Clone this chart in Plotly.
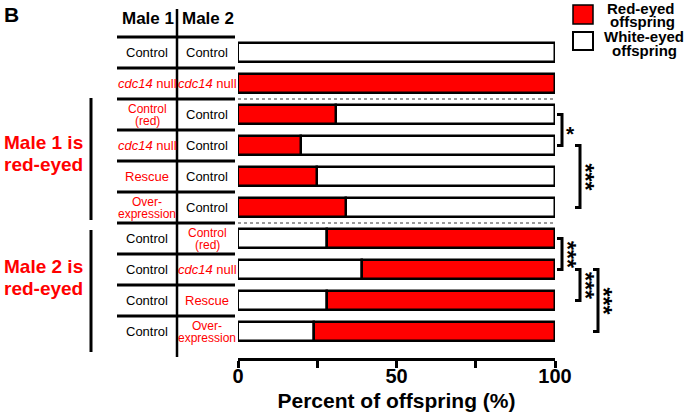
import plotly.graph_objects as go

# ---------------- data ----------------
male1 = ["Control", "<i>cdc14</i> null", "Control<br>(red)", "<i>cdc14</i> null", "Rescue",
         "Over-<br>expression", "Control", "Control", "Control", "Control"]
male2 = ["Control", "<i>cdc14</i> null", "Control", "Control", "Control", "Control",
         "Control<br>(red)", "<i>cdc14</i> null", "Rescue", "Over-<br>expression"]
red_pct = [0, 100, 31, 20, 25, 34, 72, 61, 72, 76]
white_pct = [100 - v for v in red_pct]
red_first = [True, True, True, True, True, True, False, False, False, False]
rows = list(range(len(red_pct)))
x_ticks = [0, 50, 100]
# significance brackets: (row_from, row_to, label, column)
brackets = [(2, 3, "*", 0), (3, 5, "***", 1), (6, 7, "***", 0), (7, 8, "***", 1), (7, 9, "***", 2)]

# ---------------- layout geometry ----------------
W, H = 686, 416
L, R, T, B = 238, 555, 37, 358
ROW = 31.0
YMIN = -0.5
YMAX = YMIN + (B - T) / ROW
FONT = "Liberation Sans, Arial, Helvetica, sans-serif"
RED = "#ff0000"


def px(xp):
    return (xp - L) / (R - L)


def py(yp):
    return (B - yp) / (B - T)


def rowp(v):
    return (YMAX - v) / (YMAX - YMIN)


def A(**kw):
    d = dict(showarrow=False, xanchor="center", yanchor="middle", xref="paper", yref="paper")
    d.update(kw)
    return d


red_x = [v if v > 0 else None for v in red_pct]
white_x = [v if v > 0 else None for v in white_pct]
red_base = [0 if rf else w for rf, w in zip(red_first, white_pct)]
white_base = [r if rf else 0 for rf, r in zip(red_first, red_pct)]

fig = go.Figure()
fig.add_trace(go.Bar(y=rows, x=white_x, base=white_base, orientation="h", width=0.6,
                     marker=dict(color="white", line=dict(color="black", width=2.5)),
                     name="White-eyed offspring", showlegend=False))
fig.add_trace(go.Bar(y=rows, x=red_x, base=red_base, orientation="h", width=0.6,
                     marker=dict(color=RED, line=dict(color="black", width=2.5)),
                     name="Red-eyed offspring", showlegend=False))

shapes = []
ann = []

# dotted separators
for v in (1.5, 5.5):
    shapes.append(dict(type="line", xref="x", yref="y", x0=0, x1=100, y0=v, y1=v,
                       line=dict(color="#9a9a9a", width=2, dash="dot")))

# table lines
shapes.append(dict(type="line", xref="paper", yref="paper", x0=px(177), x1=px(177),
                   y0=py(9), y1=py(357), line=dict(color="black", width=2.5)))
for k in range(len(rows)):
    v = k - 0.5
    shapes.append(dict(type="line", xref="paper", yref="paper", x0=px(117), x1=px(235),
                       y0=rowp(v), y1=rowp(v), line=dict(color="black", width=3)))
# group lines
shapes.append(dict(type="line", xref="paper", yref="paper", x0=px(91), x1=px(91),
                   y0=py(98), y1=py(220), line=dict(color="black", width=3)))
shapes.append(dict(type="line", xref="paper", yref="paper", x0=px(91), x1=px(91),
                   y0=py(230), y1=py(352), line=dict(color="black", width=3)))

# header
ann.append(A(text="B", x=px(11), y=py(14),
             font=dict(family=FONT, size=21, color="black", weight="bold")))
ann.append(A(text="Male 1", x=px(148), y=py(18),
             font=dict(family=FONT, size=17, color="black", weight="bold")))
ann.append(A(text="Male 2", x=px(208), y=py(18),
             font=dict(family=FONT, size=17, color="black", weight="bold")))

# group labels
for txt, yy in (("Male 1 is", 142), ("red-eyed", 164), ("Male 2 is", 266), ("red-eyed", 288)):
    ann.append(A(text=txt, x=px(43), y=py(yy),
                 font=dict(family=FONT, size=19, color=RED, weight="bold")))


def cell(txt, xc, r):
    color = "black" if txt == "Control" else RED
    parts = txt.split("<br>")
    if len(parts) == 1:
        ann.append(A(text=txt, x=px(xc), y=r, yref="y",
                     font=dict(family=FONT, size=13, color=color)))
    else:
        for p, sh in zip(parts, (6, -6)):
            ann.append(A(text=p, x=px(xc), y=r, yshift=sh, yref="y",
                         font=dict(family=FONT, size=12, color=color)))


for r, a, b in zip(rows, male1, male2):
    cell(a, 147, r)
    cell(b, 207, r)

# brackets
col_x = [562, 580, 598]
for r0, r1, lab, c in brackets:
    xb = col_x[c]
    shapes.append(dict(type="path", xref="paper", yref="paper",
                       path=f"M {px(xb - 5)} {rowp(r0)} L {px(xb)} {rowp(r0)} L {px(xb)} {rowp(r1)} L {px(xb - 5)} {rowp(r1)}",
                       line=dict(color="black", width=3)))
    ym = (r0 + r1) / 2
    if lab == "*":
        ann.append(A(text="*", x=px(xb + 8), y=rowp(ym), yshift=-3,
                     font=dict(family=FONT, size=21, color="black", weight="bold")))
    else:
        ann.append(A(text=lab, x=px(xb + 5), y=rowp(ym), textangle=90,
                     font=dict(family=FONT, size=23, color="black", weight="bold")))

# legend
shapes.append(dict(type="rect", xref="paper", yref="paper", x0=px(573), x1=px(593),
                   y0=py(5), y1=py(24), fillcolor=RED, line=dict(color="black", width=1.5)))
shapes.append(dict(type="rect", xref="paper", yref="paper", x0=px(573), x1=px(593),
                   y0=py(32), y1=py(50), fillcolor="white", line=dict(color="black", width=2)))
for txt, xx, yy in (("Red-eyed", 641, 8), ("offspring", 642, 21), ("White-eyed", 644, 36),
                    ("offspring", 644, 50)):
    ann.append(A(text=txt, x=px(xx), y=py(yy),
                 font=dict(family=FONT, size=15, color="black", weight="bold")))

fig.update_layout(
    width=W, height=H, autosize=False,
    margin=dict(l=L, r=W - R, t=T, b=H - B),
    paper_bgcolor="white", plot_bgcolor="white",
    barmode="overlay", bargap=0,
    shapes=shapes, annotations=ann, showlegend=False,
    xaxis=dict(range=[0, 100], tickvals=x_ticks, showgrid=False, zeroline=False,
               showline=True, linecolor="black", linewidth=2.5,
               ticks="outside", ticklen=7, tickwidth=2.5, tickcolor="black",
               minor=dict(tickvals=[25, 75], ticks="outside", ticklen=7, tickwidth=2.5, tickcolor="black"),
               tickfont=dict(family=FONT, size=20, color="black", weight="bold"),
               ticklabelstandoff=-9,
               title=dict(text="Percent of offspring (%)", standoff=8,
                          font=dict(family=FONT, size=21, color="black", weight="bold")),
               automargin=False, fixedrange=True),
    yaxis=dict(range=[YMAX, YMIN], visible=False, fixedrange=True),
)

fig.write_html("out.html", config={"displayModeBar": False},
               post_script="document.body.style.margin='0';")
